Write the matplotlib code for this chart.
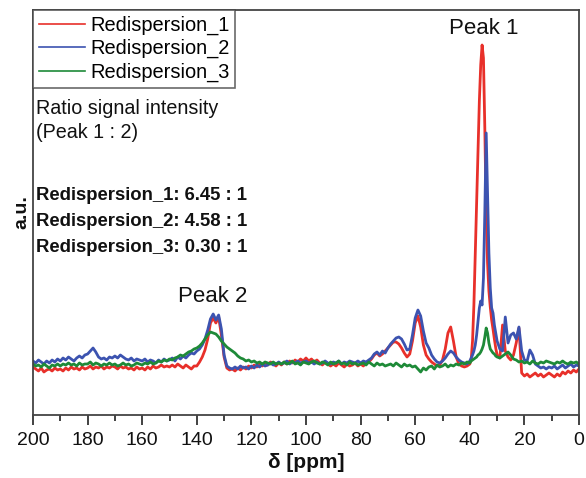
import numpy as np
import matplotlib
matplotlib.use("Agg")
import matplotlib.pyplot as plt

plt.rcParams['font.family'] = ['Liberation Sans', 'DejaVu Sans']

# chemical shift grid (ppm): 1 ppm steps, 0.5 ppm steps around Peak 1
ppm = np.concatenate([np.arange(200, 40, -1.0), np.arange(40, 30, -0.5), np.arange(30, -1, -1.0)])

red = [
    -4, -6, -8, -5, -9, -7, -6, -8, -5, -7,        # 200-191
    -6, -8, -5, -7, -4, -6, -5, -7, -4, -6,        # 190-181
    -5, -3, -6, -4, -5, -3, -6, -4, -5, -3,        # 180-171
    -4, -6, -3, -5, -4, -6, -5, -7, -4, -6,        # 170-161
    -5, -7, -4, -6, -3, -5, -4, -2, -4, -3,        # 160-151
    -4, -2, -4, -1, -3, -5, -2, -4, -6, -3,        # 150-141
    -3, 1, 6, 13, 24, 40, 45, 40, 46, 28,          # 140-131
    6, -5, -7, -6, -8, -5, -7, -4, -6, -3,         # 130-121
    -5, -2, -4, -1, -3, 0, -2, 1, -1, -3,          # 120-111
    0, -2, 1, -1, 2, 0, 3, 1, 4, 2,                # 110-101
    5, 2, 4, 1, 3, 0, -2, 1, -1, -3,               # 100-91
    -1, -3, 0, -2, -4, -1, -3, -2, 0, -3,          # 90-81
    -1, -3, 0, 1, 4, 8, 10, 7, 9, 12,              # 80-71
    15, 18, 21, 21, 19, 15, 10, 6, 9, 22,          # 70-61
    40, 47, 36, 18, 8, 4, 1, -1, -3, -2,           # 60-51
    3, 14, 30, 36, 22, 6, -1, -3, -4, -3,          # 50-41
    -1, 3, 22, 58, 108, 155, 212, 262, 298, 318,   # 40-35.5
    305, 235, 150, 100, 72, 56, 43, 34, 24, 15,    # 35-30.5
    8, 5, 38, 12, 6, 3, 8, 20, 35, -10,            # 30-21
    -13, -11, -14, -12, -10, -13, -11, -14, -12, -10,  # 20-11
    -12, -14, -11, -13, -9, -11, -8, -10, -7, -9, -6,  # 10-0
]

blue = [
    2, 0, 3, 1, -1, 2, 0, 3, 1, 4,                 # 200-191
    2, 5, 3, 6, 4, 2, 5, 7, 5, 8,                  # 190-181
    9, 12, 15, 11, 6, 4, 5, 3, 6, 5,               # 180-171
    7, 5, 8, 6, 4, 3, 5, 2, 4, 3,                  # 170-161
    2, 4, 1, 3, 2, 0, 3, 1, 4, 2,                  # 160-151
    3, 5, 2, 6, 4, 7, 5, 8, 10, 9,                 # 150-141
    12, 14, 18, 24, 33, 44, 49, 43, 48, 34,        # 140-131
    8, -3, -5, -6, -4, -6, -3, -5, -4, -6,         # 130-121
    -3, -5, -2, -4, -1, -3, -2, 0, -2, -1,         # 120-111
    1, -1, 0, 2, -1, 1, 0, 2, 0, 1,                # 110-101
    2, 0, 1, -1, 1, -1, 0, 2, 0, -1,               # 100-91
    1, 0, 2, -1, 1, 0, 2, 1, 0, 2,                 # 90-81
    0, 2, 1, 3, 5, 9, 11, 8, 12, 10,               # 80-71
    15, 19, 22, 25, 26, 24, 19, 13, 14, 28,        # 70-61
    45, 53, 47, 32, 20, 15, 8, 4, 1, 0,            # 60-51
    2, 5, 9, 12, 10, 6, 3, 1, 0, -1,               # 50-41
    2, 5, 8, 12, 18, 28, 42, 55, 62, 58,           # 40-35.5
    85, 150, 230, 170, 110, 75, 55, 50, 38, 30,    # 35-30.5
    22, 14, 12, 46, 20, 28, 30, 24, 36, 12,        # 30-21
    3, 2, 13, 8, -1, -3, -5, -4, -6, -4,           # 20-11
    -5, -3, -6, -4, -2, -5, -3, -1, -4, -2, -3,    # 10-0
]

green = [
    -1, -3, -2, -4, -1, -3, -5, -2, -3, -1,        # 200-191
    -3, -1, -2, 0, -2, -1, -3, 0, -2, -1,          # 190-181
    -1, 1, -2, 0, -1, -3, -1, -2, 0, -2,           # 180-171
    -1, -3, -2, 0, -2, -1, -3, -2, 0, -1,          # 170-161
    -2, 0, -1, 1, -1, 0, 2, 1, 3, 2,               # 160-151
    4, 3, 5, 6, 8, 7, 9, 11, 12, 14,               # 150-141
    15, 17, 20, 24, 28, 31, 30, 29, 26, 22,        # 140-131
    19, 16, 14, 12, 10, 7, 5, 4, 2, 3,             # 130-121
    1, 2, 0, 1, -1, 1, 0, -1, 1, -1,               # 120-111
    0, -1, 1, -1, 0, 2, -1, 0, -2, 1,              # 110-101
    0, -1, 1, 2, 0, -1, 1, 0, -2, 1,               # 100-91
    -1, 0, 2, -1, 0, -2, 1, -1, 0, -2,             # 90-81
    -1, 0, -2, 1, -1, -3, 0, -2, -1, -3,           # 80-71
    -2, -1, -3, 0, -2, -4, -1, -3, -2, -4,         # 70-61
    -3, -6, -9, -5, -7, -4, -3, -6, -2, -4,        # 60-51
    -3, -1, -4, -2, -3, -1, -2, 0, -1, 1,          # 50-41
    0, 2, 3, 4, 5, 6, 8, 9, 11, 14,                # 40-35.5
    18, 26, 35, 30, 20, 14, 12, 10, 9, 7,          # 35-30.5
    6, 5, 7, 9, 11, 8, 4, 3, 1, 2,                 # 30-21
    0, 1, -1, 2, 0, -1, 1, 0, 2, 1,                # 20-11
    0, -1, 1, 0, 2, 0, -1, 1, 0, 1, -1,            # 10-0
]

labels = ["Redispersion_1", "Redispersion_2", "Redispersion_3"]
ratio_values = ["6.45 : 1", "4.58 : 1", "0.30 : 1"]
xticks = [200, 180, 160, 140, 120, 100, 80, 60, 40, 20, 0]

colors = ["#e8302a", "#3c53b0", "#1e8a38"]

W, H = 586, 478
fig = plt.figure(figsize=(W / 100, H / 100), dpi=100)
L, R, B, T = 33, 579, 415, 10
ax = fig.add_axes([L / W, 1 - B / H, (R - L) / W, (B - T) / H])

for ys, lab, c in zip([red, blue, green], labels, colors):
    ax.plot(ppm, ys, color=c, lw=2.0, label=lab, solid_joinstyle='round')

ax.set_xlim(200, 0)
ax.set_ylim(-52, 353)
ax.set_yticks([])
ax.set_xticks(xticks)
ax.set_xticklabels([str(t) for t in xticks])
ax.set_xticks(np.arange(190, 0, -20), minor=True)
ax.tick_params(axis='x', which='major', direction='out', length=7, width=1.3,
               color='#333333', labelsize=14, pad=5, labelcolor='#111111')
ax.tick_params(axis='x', which='minor', direction='out', length=4, width=1.3, color='#333333')
for s in ax.spines.values():
    s.set_color('#444444')
    s.set_linewidth(1.3)

ax.set_xlabel("δ [ppm]", fontsize=15, fontweight='bold', labelpad=3, color='#111111')
ax.set_ylabel("a.u.", fontsize=14, fontweight='bold', labelpad=2, color='#111111')

leg = ax.legend(loc='upper left', bbox_to_anchor=(0, 1), borderaxespad=0,
                fancybox=False, edgecolor='#444444', fontsize=14.4,
                handlelength=2.3, handletextpad=0.25, labelspacing=0.2,
                borderpad=0.3)
leg.get_frame().set_linewidth(1.2)
for h in leg.get_lines():
    h.set_linewidth(1.2)

def fp(x, y):
    return x / W, 1 - y / H

fig.text(*fp(36, 108), "Ratio signal intensity", fontsize=14.2, va='center', ha='left', color='#111111')
fig.text(*fp(36, 132), "(Peak 1 : 2)", fontsize=14.2, va='center', ha='left', color='#111111')
for i, (lab, rv) in enumerate(zip(labels, ratio_values)):
    fig.text(*fp(36, 195 + i * 26), f"{lab}: {rv}", fontsize=13.3, fontweight='bold',
             va='center', ha='left', color='#111111')

ax.text(35.0, 335, "Peak 1", fontsize=16, ha='center', va='center', color='#111111')
ax.text(134.1, 66, "Peak 2", fontsize=16, ha='center', va='center', color='#111111')

fig.savefig("out.png", dpi=100)
